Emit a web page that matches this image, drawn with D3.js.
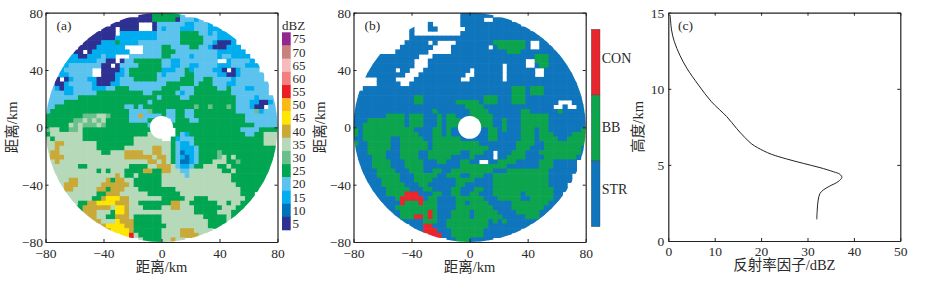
<!DOCTYPE html>
<html>
<head>
<meta charset="utf-8">
<script src="https://cdn.jsdelivr.net/npm/d3@7"></script>
<style>
html,body{margin:0;padding:0;background:#fff;}
text{font-family:"Liberation Serif","Noto Sans CJK SC",serif;fill:#2a2a2a;}
</style>
</head>
<body>
<div id="chart"></div>
<script>
// reflectivity classes, one char per 3.2 km cell, top row first
var dbzLevels = [75,70,65,60,55,50,45,40,35,30,25,20,15,10,5];
var dbzKeys = ["o","n","m","l","k","j","i","h","g","f","e","d","c","b","a"];
var dbzColors = ["#92278f","#c9807e","#f6bcbd","#f37f80","#ed1c24","#fdb913","#ffe600","#c9a938","#b5d9b9","#6bbf8c","#00a651","#5cc3ee","#00aeef","#0072bc","#2e3192"];
var dbzRows = [
"..... ..... ..... ..... aaaee eeeed ..... ..... ..... .....",
"..... ..... ..... .aaaa aaaee eeead ddcd. ..... ..... .....",
"..... ..... ....a aaaaa ...ad ddddd ccddd c.... ..... .....",
"..... ..... ..aaa .aaaa ...ad cdddc ccddd ccc.. ..... .....",
"..... ..... aaaaa .cccc ccccd dddde eeedd cdccc ..... .....",
"..... ....a aaaaa ccccc ccccd dddde eeeed ddccc c.... .....",
"..... ...aa aaccc ecccc ddddd dddde eeeed dcaaa c.... .....",
"..... ..aaa acccc cc... .dddd eeddd deedd caaac cc... .....",
"..... .aa.a ccccc ccc.. .dddd eeedd ddddd ddccc ccc.. .....",
"..... ccaac ccdcc ...dd ddddd eeddd dcddd ddcdd cccc. .....",
"....c ccccc cddaa .adde eeeee ddccd ddddd dd..c ddddc .....",
"...cc ddddd ddaa. adddd eeeee ddccd dccdd ddccc dddcc c....",
"...cd ddddd ..aaa acdee eeeee cccdd ecddd dcca. acddd d....",
"..dcc ddddd ..aaa ccdee eeeed cdddd eeddd ddcca acddd dd...",
"..a.a cdddc caaaa cddde eeeed dddde eedde edddd cdddd dd...",
".daac ddddd caaac cdddd ddddd deeee eedee edddc cdddd ddd..",
".dcac cdddd cccdd eeedd ddddd eeeed ddeee eedde dddcc ddd..",
".dddc cdddd deeee eeeee eddee eeedc ddeee eeeee ddddd ddd..",
"ddddd ddeee eeeee eeeee eeeed eeeed deeee eeeee edddd cdddd",
"dddde eeeee eeeee eeeee eedee eeeee eeeee eeeee edddc caacd",
"ddeee eeeee eeeee eedde deeee eeeee eefee feeef edddc aa.dd",
"deeee eeeee eeeee eeedd ddfee eddee ddeee eeeee edddd fcddd",
"eeeee eeeff fggfe eeedd hdddd eddee ddeee eeeee eeedd ddddd",
"eeeee effgf gfgee eeedd ddeee ..dee eddee eeeee eeedd ddddd",
"eeeee gfgff fgfee eeeee eeddd ..eee eeeee eeeee eeeee ddddd",
"fggee ffgee eeeee eeeee eeeeg ...ee eeeee eeeee eeddd deeee",
"egggg gggee eeeee eeeee eeggg ...ed ceeee eeeee eeedd eeggg",
"geggg gggee eeeee eeeeg ggggg ..ecd ddeee eeeee eeeee eeggg",
"gghhg ggggg geeee eeeeg ggggg ggedc cdeee eeeee eeeee eeggg",
"gghgg ggggg geeee eeggg ggghh ggedc ccdee eeeee eeeee eeeee",
"ghhgg ggggg ggeeg gghhh hgghh ggedb ccdee eefee eeeee eeeee",
"ghhhg ggggg ggggg gghhh hhhgh hgedc bcdee eefge geeee eeeee",
".ghgg ggggg ggggg ggggg gghhg hgedb bcdee eggge efeee eeee.",
".gggg ggeeg ggggg gggee eeggh hhgdc cdeeg ggeeg eeeee eeee.",
".gggg ggggg gegeg ggeee ehhee hhggd dgggg gggee geeee eeee.",
"..ggg ggggg ggggg hgeeg eeeee ggggg dgggg ggggg eeeee eee..",
"..ggg hhggg ggghe hhgge eeeee ggggg ggggg ggggg eeeee eee..",
"...gh hhggg gghhh hhhge eeeee ggggg ggggg ggggg geeee ee...",
"...gh hgggg ghheh hhggg eeeee eeegg ggggg ggggg ggeee e....",
"....g ggggg geehh hgggg ggeee eeeeg ggggg ggggg ggeee .....",
"....g ggggg eehii ihhgg ggggg eeeee ggeee ggggg gggee .....",
"..... ggeeh hiiii hhhgg eeeee eehhg geeee eegge ggee. .....",
"..... .eehh hhhhg iihgg geeee gghhg ggeee eeegg gee.. .....",
"..... ..ehh hggge iihgg ggggg ggggg ggeee eeggg ee... .....",
"..... ...gh hggee hhhge eeeee ggggg gggge eeeeg e.... .....",
"..... ....g hhggg ihhhe eeeee ggggg ggggg eeeeg ..... .....",
"..... ..... gghii iihhe eeeee egggg ggggg eee.. ..... .....",
"..... ..... ..ghi iiihe eeeee ggggh hhggg g.... ..... .....",
"..... ..... ..... .iikg eeeee ggggh hhhg. ..... ..... .....",
"..... ..... ..... ..... geeee gghgg ..... ..... ..... ....."
];

// echo type, same cell size
var typeNames = ["CON","BB","STR"];
var typeKeys = ["c","b","s"];
var typeColors = ["#e8262d","#0da44e","#0f75bc"];
var typeRows = [
"..... ..... ..... ..... ...ss sssss ..... ..... ..... .....",
"..... ..... ..... ..... ...ss sss.. ssss. ..... ..... .....",
"..... ..... ..... .s... ...ss sssss sssss s.... ..... .....",
"..... ..... ..s.. .ss.. ....s sssss sssss sss.. ..... .....",
"..... ..... ..s.. ..... ...ss sssss sssss sssss ..... .....",
"..... ..... ..sss sssss sssss sssss sssss sssss s.... .....",
"..... ..... .ssss s.s.. ..sss sssss bbbbb bbs.. ss... .....",
"..... ..... sssss ss... .ssss ssss. sbbbb bbs.. sss.. .....",
"..... ....s sssss s.... .ssss sssss sssbb bssss ssss. .....",
"..... sssss ssss. ..sss sssss sssss sssss ssssb bbsss .....",
"....s sssss sss.. .ssss sssss sssss sssss ss..b bbsss s....",
"...ss sssss sss.. .ssss sssss sssss ss.ss ss..s bbsss ss...",
"...ss ssss. ss... sssss sssss .ssss ss.ss ssss. .ssss ss...",
"..sss sssss s...s sssss ssss. .ssss ss.ss ssss. .ssss sss..",
"..... ssss. ...ss sssss sss.. sssss ss.ss sssss sssss sss..",
"..... sssss ..sss sssss sssss sssss sssss sssss sssss ssss.",
"..sss sssss sssss sssss sssss sssss ssssb bbsbb bssss ssss.",
".ssss sssss sssss sssss sssss sssss ssssb bbsbb bssss ssss.",
"sssss sssss sssbb sssss sssss sssbb bsssb bbsss sssss sssss",
"sssss sssss sssbb sssss ssbbb bbsbb bsssb bbsss ssss. ..sss",
"sssss sssss sssss sssss ssssb bbbss sssss sssss sss.. s..ss",
"sssss sssss sssss ssbss sssss bbbbs sssss sbbss ssssb sssss",
"sssss ssbbb bsbbb sssbs bbsss bbbbb sssss sbbbb bbsss sssss",
"sssbb bbbbb bsbbb sssbs bbbss bbbbb ssbss sbbbb bbsss sssss",
"ssbbb bbbbb bsbbb sssbs bbbss sbbbb ssbss sbbbb bbsss sssss",
"bsbbb bbbbb bbbss ssbbs bssss ssssb bsbss sbbbs bbsss ssssb",
"bsbbb bbbbb bbbbs ssbbs bssss ssssb bssss sbbbs bbbss ssbbb",
"ssbbb bbbss bbbbb ssbbb bbbss ssssb bssss sbbbs bbbbs sbbbb",
"bssbb bbbss bbbbb bsbbb bbbbb bbsss sssss bbbbs sbbbb bbbbb",
"sssbb bbbss bbbbb bsbbb bbbbb bbbbs sssss bbbss sbbbb bbbbs",
"sssbb bbsss bbbbs sbbbb bbbss bbbss .sssb bbsss bbbbb bbbbs",
"ssssb bbsss bbbbs sbbbb bssss bssss .ssbb bbsss sbbbb bbbs.",
".sssb bbbss sbbbb sssbb sssbb ss..s sbbbb sssss bbbss sss..",
".sssb bbbss sbbbb sssss sssbb bbbbb bbbss sssss bbbss sss..",
".ssss bbbbs ssbbb ssbbs sbbbb bbbbb sssbb bbbbb bbsss sss..",
"..sss bbbbb sssbb bbbss bbbss bbbss bbbbb bbbbb bbsss ss...",
"..sss sbbbb sssbb bbsss ssbbb bssss bbbbb bbbbb bbsss ss...",
"...ss sbbbb bsssb bssss ssbbs sssss bbbbb bbbbb bbsss s....",
"...ss ssbbb bbsss bbsss sbbss sbbss bbbbb bbbbb bbbss s....",
"....s ssbbb bcccs ssbbs sbbss bbsss bbbbb bsbbb bbbss .....",
"....s ssssb ccccc sbbss ssbbb bbbss sbbbb bssbb bbbss .....",
"..... sssss cbbbc bbbss ssbbs bbbbs ssssb bbbbb bbss. .....",
"..... .sssb bbbbb bbbss ssbbb bbbbb ssssb bbbbb bss.. .....",
"..... ..sss bbbbb bcbss sbbbb sbbbb bssss bbbbb ss... .....",
"..... ...ss bbbcc bcbss sbbbb sbbbb bbsss ssbbb s.... .....",
"..... ....s sssss bbbss bbbbb bbbbs bsbss sssss ..... .....",
"..... ..... ..sss ccsss bbbbb bbbbs sssss sss.. ..... .....",
"..... ..... ..sss cccss sbbbb bbbss sssss s.... ..... .....",
"..... ..... ..... .cccs sbbbb bbbss ssss. ..... ..... .....",
"..... ..... ..... ..... ssbbb sssss ..... ..... ..... ....."
];

// mean profile of panel (c)
var profileDbz = [0.4,0.7,1.3,2.5,4,6.5,9.3,12.6,14.7,16.5,18,20.5,22.3,25.5,29.1,32.7,35.6,37,37.4,36.6,34.8,33.4,32.7,32.3,32.1,32];
var profileKm = [14.85,13.86,13.1,12.2,11.35,10.25,9.15,8.17,7.4,6.8,6.37,5.93,5.69,5.39,5.1,4.82,4.55,4.38,4.18,3.9,3.61,3.35,3.13,2.69,2.04,1.42];

var rangeTicks = [-80,-40,0,40,80];
var titleRange = "距离/km";
var titleHeight = "高度/km";
var titleDbz = "反射率因子/dBZ";

var W = 929, H = 282;
var plotTop = 12.7, plotBot = 242;
var svg = d3.select("#chart").append("svg").attr("width", W).attr("height", H).style("display","block");

function frame(x, y, tx, ty, xt, yt, xpad, ypad)
{
	// four sided box with inward ticks, labels only left and bottom
	var g = svg.append("g");
	var axes = [
		[d3.axisBottom(x).tickValues(tx), 0, y.range()[0], true],
		[d3.axisTop(x).tickValues(tx), 0, y.range()[1], false],
		[d3.axisLeft(y).tickValues(ty), x.range()[0], 0, true],
		[d3.axisRight(y).tickValues(ty), x.range()[1], 0, false]
	];
	axes.forEach(function(a, i)
	{
		var ax = a[0].tickSizeInner(-3).tickSizeOuter(0).tickPadding(i == 0 ? xpad : ypad);
		if(!a[3])
			ax.tickFormat("");
		var s = g.append("g").attr("transform", "translate(" + a[1] + "," + a[2] + ")").call(ax);
		s.selectAll("path").attr("stroke", "#222").attr("stroke-width", 1.2);
		s.selectAll("line").attr("stroke", "#222");
		s.selectAll("text").style("font-size", "13.5px").attr("fill", "#2a2a2a");
	});
	g.append("text").attr("x", (x.range()[0] + x.range()[1]) / 2).attr("y", xt).attr("text-anchor", "middle").style("font-size", "14.5px").text(tx.length == 5 ? titleRange : titleDbz);
	g.append("text").attr("transform", "translate(" + yt + "," + (y.range()[0] + y.range()[1]) / 2 + ") rotate(-90)").attr("text-anchor", "middle").style("font-size", "14.5px").text(ty.length == 5 ? titleRange : titleHeight);
}

function radar(id, left, right, rows, keys, colors, label, holeR)
{
	var xl = d3.scaleLinear().domain([-80, 80]).range([left, right]);
	var yl = d3.scaleLinear().domain([-80, 80]).range([plotBot, plotTop]);
	var colorOf = d3.scaleOrdinal().domain(keys).range(colors);
	var col = d3.scaleBand().domain(d3.range(50)).range([left, right]);
	var row = d3.scaleBand().domain(d3.range(50)).range([plotTop, plotBot]);

	var cells = [];
	rows.forEach(function(r, j)
	{
		r.replace(/ /g, "").split("").forEach(function(c, i)
		{
			if(c != ".")
				cells.push({i:i, j:j, c:c});
		});
	});

	svg.append("clipPath").attr("id", id).append("ellipse")
		.attr("cx", xl(0)).attr("cy", yl(0)).attr("rx", xl(80) - xl(0)).attr("ry", yl(-80) - yl(0));
	var g = svg.append("g").attr("clip-path", "url(#" + id + ")");
	g.selectAll("rect").data(cells).enter().append("rect")
		.attr("x", function(d){ return col(d.i); })
		.attr("y", function(d){ return row(d.j); })
		.attr("width", col.bandwidth() + 0.6)
		.attr("height", row.bandwidth() + 0.6)
		.attr("fill", function(d){ return colorOf(d.c); });
	g.append("ellipse").attr("cx", xl(0)).attr("cy", yl(0)).attr("rx", xl(holeR) - xl(0)).attr("ry", yl(-holeR) - yl(0)).attr("fill", "#fff");

	frame(xl, yl, rangeTicks, rangeTicks, 272, left - 28.5, 6, 2.5);
	svg.append("text").attr("x", left + 11).attr("y", 30).style("font-size", "13.5px").text(label);
}

radar("clipa", 45.5, 277.5, dbzRows, dbzKeys, dbzColors, "(a)", 8);
radar("clipb", 353.5, 585.7, typeRows, typeKeys, typeColors, "(b)", 8);

// colour bar of (a)
var barA = d3.scaleBand().domain(dbzLevels).range([32.3, 230]);
svg.selectAll(".bara").data(dbzLevels).enter().append("rect").attr("class", "bara")
	.attr("x", 282).attr("width", 8.7)
	.attr("y", function(d){ return barA(d); })
	.attr("height", barA.bandwidth() + 0.3)
	.attr("fill", function(d, i){ return dbzColors[i]; });
svg.selectAll(".laba").data(dbzLevels).enter().append("text").attr("class", "laba")
	.attr("x", 292.5)
	.attr("y", function(d){ return barA(d) + barA.bandwidth() / 2 + 4.5; })
	.style("font-size", "13px")
	.text(function(d){ return d; });
svg.append("text").attr("x", 282).attr("y", 30).style("font-size", "13px").text("dBZ");

// class bar of (b)
var barB = d3.scaleBand().domain(typeNames).range([29.3, 226.7]);
svg.selectAll(".barb").data(typeNames).enter().append("rect").attr("class", "barb")
	.attr("x", 591.3).attr("width", 8.7)
	.attr("y", function(d){ return barB(d); })
	.attr("height", barB.bandwidth())
	.attr("fill", function(d, i){ return typeColors[i]; })
	.attr("stroke", "#444").attr("stroke-width", 0.4);
svg.selectAll(".labb").data(typeNames).enter().append("text").attr("class", "labb")
	.attr("x", 601.7)
	.attr("y", function(d, i){ return [63, 132, 194][i]; })
	.style("font-size", "14px")
	.text(function(d){ return d; });

// panel (c)
var xc = d3.scaleLinear().domain([0, 50]).range([668.3, 900.3]);
var yc = d3.scaleLinear().domain([0, 15]).range([241, 12.7]);
frame(xc, yc, [0,10,20,30,40,50], [0,5,10,15], 270, 643, 5, 4);
svg.append("path")
	.datum(d3.range(profileKm.length))
	.attr("fill", "none").attr("stroke", "#222").attr("stroke-width", 1)
	.attr("d", d3.line().x(function(i){ return xc(profileDbz[i]); }).y(function(i){ return yc(profileKm[i]); }).curve(d3.curveCatmullRom));
svg.append("text").attr("x", 678).attr("y", 30).style("font-size", "13.5px").text("(c)");
</script>
</body>
</html>
